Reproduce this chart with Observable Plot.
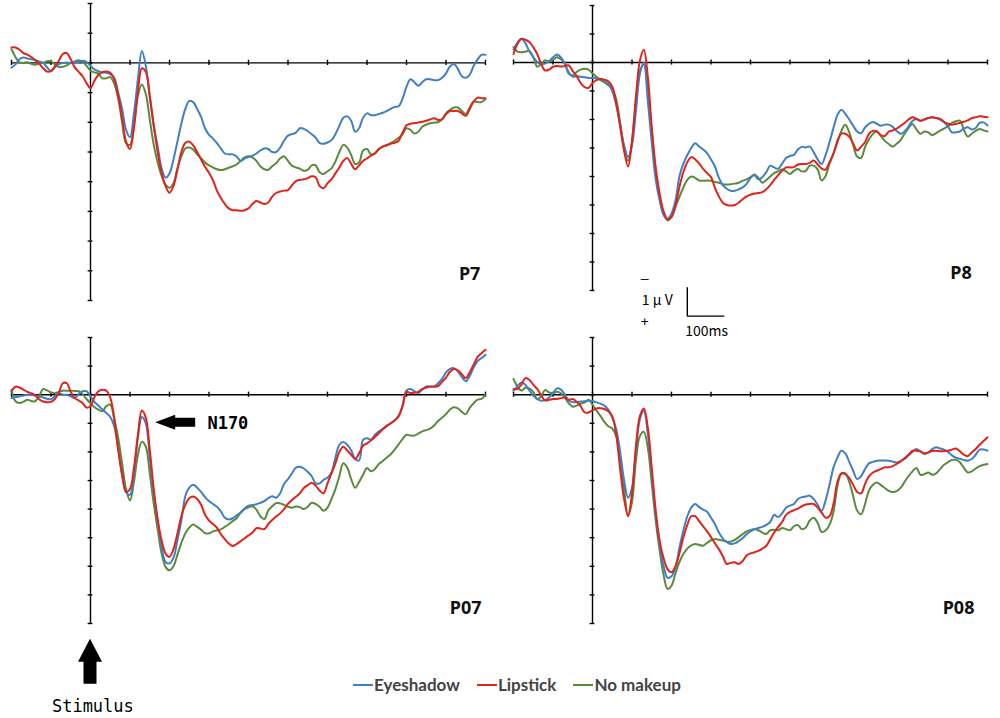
<!DOCTYPE html>
<html>
<head>
<meta charset="utf-8">
<script src="https://cdn.jsdelivr.net/npm/d3@7"></script>
<script src="https://cdn.jsdelivr.net/npm/@observablehq/plot@0.6"></script>
<style>
  html, body { margin: 0; padding: 0; background: #fff; }
  #wrap { position: relative; width: 1000px; height: 718px; overflow: hidden; background: #fff; }
  #wrap svg { position: absolute; overflow: visible !important; background: transparent !important; }
  #legend { position: absolute; left: 353px; top: 674px; display: flex; gap: 17px; font-family: Lato, "Open Sans", sans-serif; font-weight: 700; font-size: 17px; color: #444; }
  #legend span.item { display: flex; align-items: center; }
  #legend span.sw { display: inline-block; width: 20px; height: 2px; margin-right: 1px; }
</style>
</head>
<body>
<div id="wrap"><div id="legend"></div></div>
<script>
// ---- data (µV, positive plotted downward; time in ms) ----
const times = d3.range(-200, 1001, 10);
const conditions = ["Eyeshadow", "Lipstick", "No makeup"];
const colors = ["#3f7fc3", "#e2231a", "#5a8b3c"];
const xTicks = [-200, -100, 0, 100, 200, 300, 400, 500, 600, 700, 800, 900, 1000];
const yTicks = [-2, -1, 0, 1, 2, 3, 4, 5, 6, 7, 8];

const p7Eyeshadow = [
  0.16,0.05,-0.12,-0.18,-0.15,-0.12,-0.09,-0.05,0.00,0.15,
  0.27,0.15,0.04,0.00,-0.01,0.00,-0.01,-0.04,-0.07,-0.03,
  0.10,0.22,0.28,0.32,0.33,0.38,0.50,1.00,1.55,2.25,
  2.50,1.70,0.55,-0.40,0.10,1.15,2.10,2.80,3.55,3.86,
  3.72,3.25,2.65,2.05,1.55,1.28,1.32,1.55,1.82,2.20,
  2.42,2.55,2.70,2.88,3.05,3.08,3.08,3.15,3.30,3.22,
  3.17,3.12,3.05,2.95,2.88,2.90,3.00,3.00,2.85,2.62,
  2.45,2.40,2.35,2.20,2.22,2.30,2.40,2.52,2.70,2.72,
  2.68,2.60,2.40,2.12,1.85,1.80,1.95,2.32,2.20,1.85,
  1.70,1.76,1.76,1.72,1.68,1.62,1.55,1.48,1.46,1.20,
  0.80,0.55,0.65,0.77,0.65,0.55,0.55,0.58,0.58,0.50,
  0.35,0.12,0.04,0.20,0.45,0.50,0.40,0.10,-0.12,-0.27,
  -0.27];
const p7Lipstick = [
  -0.52,-0.52,-0.45,-0.33,-0.28,-0.20,-0.10,0.02,0.18,0.29,
  0.28,0.12,-0.08,-0.30,-0.33,-0.12,0.15,0.30,0.45,0.68,
  0.85,0.60,0.40,0.31,0.29,0.33,0.55,1.10,1.85,2.65,
  2.90,2.20,1.00,0.18,0.30,1.10,2.10,3.00,3.70,4.15,
  4.37,4.15,3.60,3.00,2.70,2.65,2.78,3.00,3.25,3.50,
  3.70,3.95,4.30,4.55,4.75,4.90,4.96,4.96,4.98,4.96,
  4.90,4.75,4.65,4.70,4.75,4.70,4.50,4.38,4.33,4.30,
  4.28,4.12,3.98,3.94,3.92,3.88,3.82,3.85,4.15,4.22,
  4.05,3.92,3.72,3.52,3.30,3.20,3.40,3.58,3.45,3.30,
  3.22,3.12,3.05,2.90,2.82,2.76,2.72,2.69,2.62,2.35,
  2.10,2.05,2.03,2.01,1.98,1.95,1.90,1.86,1.92,1.90,
  1.72,1.62,1.62,1.62,1.70,1.78,1.55,1.30,1.17,1.19,
  1.19];
const p7NoMakeup = [
  -0.46,-0.20,-0.02,0.00,-0.02,0.03,0.06,0.02,0.00,-0.06,
  -0.05,0.05,0.14,0.13,0.08,0.00,-0.05,-0.09,-0.04,0.10,
  0.26,0.32,0.36,0.52,0.52,0.48,0.70,1.20,2.00,2.70,
  2.76,2.00,1.10,0.73,1.05,1.90,2.75,3.35,3.80,4.10,
  4.20,4.05,3.55,3.15,2.88,2.85,2.92,3.08,3.22,3.35,
  3.45,3.52,3.58,3.61,3.58,3.53,3.48,3.42,3.30,3.18,
  3.14,3.18,3.30,3.48,3.58,3.60,3.48,3.38,3.22,3.14,
  3.30,3.46,3.52,3.56,3.63,3.60,3.45,3.45,3.68,3.74,
  3.65,3.55,3.32,3.00,2.76,2.85,3.10,3.40,3.35,2.95,
  2.90,3.08,3.05,2.90,2.82,2.78,2.70,2.62,2.52,2.40,
  2.20,2.25,2.38,2.32,2.15,2.08,2.03,2.01,2.00,1.90,
  1.70,1.58,1.50,1.50,1.62,1.72,1.50,1.30,1.32,1.32,
  1.22];

const p8Eyeshadow = [
  -0.45,-0.70,-0.83,-0.68,-0.40,-0.19,-0.02,0.05,0.04,-0.05,
  -0.18,-0.28,-0.18,0.05,0.35,0.50,0.48,0.50,0.52,0.54,
  0.54,0.55,0.58,0.64,0.75,1.00,1.50,2.20,2.90,3.32,
  2.90,1.70,0.40,0.00,1.33,2.80,4.10,4.84,5.35,5.49,
  5.30,4.85,4.00,3.55,3.25,3.00,2.83,2.95,3.05,3.18,
  3.40,3.65,4.05,4.30,4.43,4.50,4.50,4.45,4.38,4.26,
  4.05,3.96,4.10,4.02,3.85,3.62,3.68,3.73,3.55,3.35,
  3.28,3.24,3.05,2.96,2.98,2.95,3.15,3.40,3.56,3.25,
  2.80,2.30,1.85,1.66,1.80,2.00,2.22,2.42,2.48,2.28,
  2.15,2.09,2.15,2.22,2.18,2.18,2.26,2.40,2.50,2.42,
  2.25,2.05,1.98,2.05,2.00,1.95,1.92,1.95,2.00,2.10,
  2.25,2.45,2.45,2.42,2.32,2.27,2.35,2.30,2.12,2.10,
  2.21];
const p8Lipstick = [
  -0.30,-0.65,-0.83,-0.80,-0.72,-0.54,-0.30,0.05,0.28,0.25,
  0.15,0.12,0.14,0.12,0.10,0.30,0.48,0.72,0.86,0.89,
  0.72,0.62,0.58,0.60,0.66,0.85,1.40,2.25,3.10,3.65,
  2.75,1.20,-0.07,-0.45,0.50,2.27,3.70,4.60,5.22,5.50,
  5.42,5.05,4.37,3.85,3.50,3.32,3.40,3.55,3.73,3.88,
  4.02,4.40,4.70,4.92,5.00,5.02,5.00,4.92,4.80,4.70,
  4.64,4.60,4.58,4.55,4.45,4.30,4.12,3.95,3.80,3.68,
  3.68,3.67,3.58,3.56,3.56,3.52,3.44,3.58,3.72,3.76,
  3.50,3.20,2.75,2.50,2.50,2.60,2.85,3.09,2.95,2.80,
  2.50,2.40,2.42,2.55,2.58,2.42,2.38,2.32,2.22,2.12,
  2.00,1.92,1.98,2.04,2.00,1.95,1.92,1.95,1.98,2.08,
  2.15,2.18,2.15,2.12,2.08,2.03,1.95,1.92,1.89,1.90,
  1.92];
const p8NoMakeup = [
  -0.54,-0.38,-0.36,-0.38,-0.40,-0.19,0.15,0.05,-0.08,-0.03,
  -0.10,-0.18,-0.12,0.02,0.40,0.45,0.33,0.25,0.22,0.25,
  0.38,0.50,0.62,0.70,0.80,0.92,1.30,2.10,3.00,3.45,
  2.80,1.30,0.30,0.08,1.00,2.40,3.80,4.73,5.30,5.54,
  5.42,5.05,4.72,4.38,4.12,4.00,4.05,4.14,4.15,4.14,
  4.15,4.19,4.22,4.27,4.28,4.27,4.25,4.22,4.15,4.10,
  4.02,3.93,4.05,4.22,4.12,4.00,3.88,3.82,3.75,3.82,
  3.91,3.80,3.74,3.82,3.80,3.62,3.62,3.75,4.14,3.98,
  3.55,3.20,2.80,2.40,2.18,2.45,2.90,3.30,3.35,2.97,
  2.70,2.50,2.42,2.58,2.75,2.86,2.95,2.85,2.72,2.50,
  2.30,2.16,2.35,2.50,2.42,2.45,2.55,2.48,2.39,2.32,
  2.24,2.12,2.06,2.04,2.35,2.60,2.50,2.40,2.33,2.38,
  2.42];

const po7Eyeshadow = [
  0.12,0.08,0.06,0.03,0.00,0.00,0.03,0.06,0.10,0.14,
  0.16,0.05,-0.05,0.00,0.00,0.06,0.12,-0.02,-0.12,-0.12,
  0.06,0.25,0.38,0.52,0.64,0.78,1.10,1.90,2.80,3.40,
  3.50,2.80,1.50,0.78,1.00,2.20,3.40,4.40,5.30,5.85,
  5.90,5.70,5.10,4.40,3.55,3.25,3.15,3.25,3.40,3.58,
  3.72,3.82,3.92,4.08,4.30,4.36,4.32,4.22,4.13,3.98,
  3.88,3.86,3.83,3.78,3.72,3.62,3.55,3.60,3.45,3.12,
  2.95,2.75,2.55,2.52,2.58,2.70,2.85,3.10,3.10,2.98,
  2.90,2.72,2.20,1.75,1.65,1.75,1.95,2.25,2.30,1.58,
  1.52,1.57,1.40,1.28,1.20,1.10,1.00,0.90,0.75,0.40,
  -0.15,-0.20,-0.12,-0.06,-0.18,-0.29,-0.28,-0.29,-0.40,-0.55,
  -0.78,-0.90,-0.93,-0.82,-0.62,-0.47,-0.65,-0.95,-1.18,-1.28,
  -1.40];
const po7Lipstick = [
  -0.12,-0.28,-0.25,-0.18,-0.10,-0.05,0.02,0.16,0.24,0.26,
  0.25,0.15,-0.08,-0.40,-0.40,-0.10,0.12,0.20,0.29,0.45,
  0.40,0.08,-0.12,-0.17,-0.14,0.10,0.80,1.90,2.79,3.40,
  3.30,2.55,1.40,0.55,0.80,1.90,3.30,4.35,5.10,5.55,
  5.67,5.40,4.85,4.25,3.85,3.62,3.56,3.65,3.85,4.20,
  4.40,4.52,4.65,4.88,5.05,5.20,5.29,5.22,5.12,5.02,
  4.92,4.82,4.67,4.68,4.70,4.52,4.38,4.26,4.15,4.00,
  3.82,3.68,3.57,3.45,3.26,3.16,3.08,3.18,3.35,3.45,
  3.10,2.75,2.40,2.00,1.82,1.95,2.10,2.25,2.05,1.78,
  1.70,1.60,1.48,1.35,1.20,1.08,1.00,0.90,0.75,0.40,
  -0.10,-0.06,-0.07,-0.10,-0.20,-0.25,-0.29,-0.28,-0.30,-0.45,
  -0.60,-0.80,-0.90,-0.85,-0.72,-0.58,-0.78,-1.05,-1.32,-1.45,
  -1.57];
const po7NoMakeup = [
  -0.17,0.23,0.29,0.25,0.18,0.22,0.23,0.05,-0.20,-0.15,
  -0.08,-0.05,-0.10,-0.14,-0.14,-0.14,-0.13,-0.12,-0.02,0.15,
  0.30,0.44,0.52,0.58,0.40,0.35,0.85,1.50,2.40,3.30,
  3.70,3.05,2.10,1.65,1.82,2.75,3.80,4.70,5.55,6.02,
  6.14,6.00,5.60,5.18,4.85,4.65,4.54,4.62,4.72,4.84,
  4.85,4.78,4.74,4.71,4.62,4.53,4.42,4.32,4.12,4.00,
  3.94,3.90,4.02,4.25,4.35,4.05,3.90,3.79,3.80,3.85,
  3.92,3.95,3.91,3.93,4.00,3.92,3.78,3.82,3.92,4.06,
  3.95,3.65,3.30,2.85,2.40,2.55,2.95,3.25,3.05,2.80,
  2.56,2.68,2.60,2.42,2.32,2.20,2.08,1.92,1.74,1.55,
  1.40,1.43,1.43,1.36,1.28,1.24,1.19,1.08,0.92,0.80,
  0.68,0.52,0.44,0.48,0.60,0.68,0.46,0.30,0.17,0.15,
  0.00];

const po8Eyeshadow = [
  -0.14,-0.30,-0.43,-0.35,-0.15,0.03,0.15,0.21,0.19,0.10,
  -0.05,-0.22,-0.18,0.00,0.20,0.26,0.26,0.24,0.23,0.21,
  0.22,0.27,0.31,0.38,0.52,0.80,1.20,2.00,3.00,3.60,
  3.25,1.95,0.85,0.56,1.35,2.80,4.20,5.25,6.00,6.40,
  6.35,6.05,5.35,4.75,4.25,3.95,3.82,3.93,4.02,4.09,
  4.30,4.52,4.82,5.03,5.15,5.22,5.20,5.12,5.02,4.88,
  4.78,4.71,4.66,4.62,4.55,4.45,4.20,4.28,4.15,3.95,
  3.88,3.82,3.65,3.58,3.56,3.53,3.65,3.85,4.06,3.70,
  3.15,2.55,2.20,1.96,2.05,2.35,2.66,2.95,2.85,2.60,
  2.40,2.35,2.31,2.30,2.30,2.31,2.34,2.37,2.32,2.25,
  2.12,2.00,1.90,1.98,2.07,2.02,1.90,1.84,1.88,1.92,
  2.00,2.12,2.20,2.24,2.28,2.31,2.25,2.10,1.92,1.92,
  1.96];
const po8Lipstick = [
  -0.20,-0.20,-0.35,-0.58,-0.52,-0.35,-0.20,0.02,0.20,0.18,
  0.15,0.15,0.12,0.10,0.18,0.15,0.25,0.40,0.62,0.62,
  0.55,0.48,0.47,0.50,0.58,0.75,1.40,2.60,3.65,4.23,
  3.45,1.80,0.75,0.48,1.15,2.55,4.05,5.10,5.72,6.10,
  6.21,6.00,5.55,4.99,4.55,4.25,4.25,4.42,4.60,4.78,
  4.98,5.20,5.40,5.65,5.92,5.88,5.86,5.92,5.82,5.62,
  5.55,5.51,5.46,5.38,5.28,5.05,4.82,4.62,4.45,4.20,
  4.10,4.04,3.98,3.90,3.84,3.82,3.82,3.95,4.12,4.30,
  4.25,3.82,3.05,2.75,2.78,2.92,3.15,3.40,3.45,3.12,
  2.85,2.72,2.66,2.60,2.54,2.54,2.50,2.42,2.33,2.22,
  2.10,1.96,1.96,1.98,2.05,2.02,1.97,1.96,1.98,1.97,
  1.96,1.92,1.88,1.98,2.10,2.15,2.02,1.90,1.75,1.62,
  1.49];
const po8NoMakeup = [
  -0.55,-0.28,-0.15,-0.24,-0.22,-0.10,0.16,0.05,-0.16,-0.08,
  -0.05,-0.10,-0.05,0.10,0.30,0.42,0.38,0.32,0.27,0.18,
  0.35,0.55,0.74,0.95,1.10,1.18,1.45,2.20,3.30,4.25,
  3.75,2.30,1.45,1.30,1.85,3.10,4.40,5.45,6.30,6.79,
  6.68,6.25,5.85,5.57,5.38,5.27,5.22,5.25,5.28,5.18,
  5.09,5.05,5.07,5.10,5.14,5.14,5.08,4.98,4.88,4.78,
  4.74,4.70,4.74,4.82,4.87,4.74,4.72,4.74,4.66,4.70,
  4.74,4.60,4.56,4.70,4.64,4.40,4.30,4.48,4.80,4.75,
  4.55,4.10,3.20,2.76,2.75,3.05,3.55,4.05,4.18,3.82,
  3.35,3.15,3.07,3.16,3.26,3.36,3.40,3.37,3.26,3.05,
  2.85,2.68,2.56,2.80,2.78,2.72,2.80,2.75,2.60,2.45,
  2.36,2.28,2.28,2.36,2.55,2.72,2.68,2.58,2.50,2.45,
  2.42];

// ---- panels ----
const panels = [
  {name: "P7",  left: 0,   top: 0,   h: 330, ml: 11, mr: 15, mt: 3, bottom: 300, series: [p7Eyeshadow, p7Lipstick, p7NoMakeup], lx: 987, ly: 7.1},
  {name: "P8",  left: 500, top: 0,   h: 345, ml: 13, mr: 13, mt: 5, bottom: 290, series: [p8Eyeshadow, p8Lipstick, p8NoMakeup], lx: 960, ly: 7.4},
  {name: "PO7", left: 0,   top: 330, h: 388, ml: 11, mr: 15, mt: 7, bottom: 293, series: [po7Eyeshadow, po7Lipstick, po7NoMakeup], lx: 990, ly: 7.45},
  {name: "PO8", left: 500, top: 330, h: 330, ml: 13, mr: 13, mt: 7, bottom: 293, series: [po8Eyeshadow, po8Lipstick, po8NoMakeup], lx: 967, ly: 7.45}
];
const labels = {"P7": "P7", "P8": "P8", "PO7": "P07", "PO8": "P08"};
const drawOrder = [2, 0, 1]; // No makeup, Eyeshadow, Lipstick (on top)
const monoFont = "'DejaVu Sans Mono', monospace";

const wrap = document.getElementById("wrap");

for (const p of panels) {
  const rows = [];
  for (const k of drawOrder) {
    p.series[k].forEach((v, i) => rows.push({t: times[i], v, cond: conditions[k]}));
  }
  const extra = [];
  if (p.name === "P8") {
    // scale bar: 1 µV and 100 ms
    extra.push(
      Plot.ruleX([240], {y1: 7.9, y2: 8.9, stroke: "#000", strokeWidth: 1.4}),
      Plot.ruleY([8.9], {x1: 240, x2: 335, stroke: "#000", strokeWidth: 1.4}),
      Plot.text(["–"], {x: 132, y: 7.6, fontFamily: monoFont, fontSize: 13, fill: "#000"}),
      Plot.text(["1 \u03bc V"], {x: 164, y: 8.35, fontFamily: "'Noto Sans CJK JP', sans-serif", fontSize: 14, fill: "#000"}),
      Plot.text(["+"], {x: 132, y: 9.1, fontFamily: monoFont, fontSize: 13, fill: "#000"}),
      Plot.text(["100ms"], {x: 289, y: 9.45, fontFamily: "'Noto Sans CJK JP', sans-serif", fontSize: 14, fill: "#000"})
    );
  }
  if (p.name === "PO7") {
    extra.push(
      Plot.text(["N170"], {x: 296, y: 1.0, textAnchor: "start", fontFamily: monoFont, fontWeight: "bold", fontSize: 17, fill: "#000"}),
      Plot.text(["Stimulus"], {x: 6, y: 10.9, fontFamily: monoFont, fontSize: 17, fill: "#000"})
    );
  }
  const chart = Plot.plot({
    width: 500,
    height: p.h,
    marginLeft: p.ml,
    marginRight: p.mr,
    marginTop: p.mt,
    marginBottom: p.h - p.bottom,
    x: {domain: [-200, 1000], axis: null},
    y: {domain: [-2, 8], reverse: true, axis: null},
    color: {domain: conditions, range: colors},
    style: {background: "transparent", overflow: "visible"},
    marks: [
      Plot.ruleY([0], {stroke: "#000", strokeWidth: 1.4}),
      Plot.ruleX([0], {stroke: "#000", strokeWidth: 1.4}),
      Plot.ruleX(xTicks, {x: d => d, y1: -0.09, y2: 0.09, stroke: "#000", strokeWidth: 1.4}),
      Plot.ruleY(yTicks, {y: d => d, x1: -6, x2: 6, stroke: "#000", strokeWidth: 1.4}),
      Plot.line(rows, {x: "t", y: "v", z: "cond", stroke: "cond", strokeWidth: 2, curve: "catmull-rom"}),
      Plot.text([labels[p.name]], {x: p.lx, y: p.ly, textAnchor: "end", fontFamily: "'Noto Sans', sans-serif", fontWeight: "bold", fontSize: 18, fill: "#111"}),
      ...extra
    ]
  });
  chart.style.left = p.left + "px";
  chart.style.top = p.top + "px";
  wrap.appendChild(chart);

  if (p.name === "PO7") {
    const sx = chart.scale("x"), sy = chart.scale("y");
    const svg = d3.select(chart);
    // N170 arrow pointing left
    const tipX = sx.apply(165), tipY = sy.apply(0.98);
    svg.append("path")
      .attr("d", `M${tipX},${tipY} L${tipX + 20},${tipY - 7.5} L${tipX + 20},${tipY - 4.5} L${tipX + 40},${tipY - 4.5} L${tipX + 40},${tipY + 4.5} L${tipX + 20},${tipY + 4.5} L${tipX + 20},${tipY + 7.5} Z`)
      .attr("fill", "#000");
    // Stimulus arrow pointing up at time 0
    const ax = sx.apply(0), top = sy.apply(8.55);
    svg.append("path")
      .attr("d", `M${ax},${top} L${ax + 12},${top + 23} L${ax + 6.5},${top + 23} L${ax + 6.5},${top + 45} L${ax - 6.5},${top + 45} L${ax - 6.5},${top + 23} L${ax - 12},${top + 23} Z`)
      .attr("fill", "#000");
  }
}

// legend
const legend = document.getElementById("legend");
conditions.forEach((c, i) => {
  const item = document.createElement("span");
  item.className = "item";
  const sw = document.createElement("span");
  sw.className = "sw";
  sw.style.background = colors[i];
  item.appendChild(sw);
  item.appendChild(document.createTextNode(c));
  legend.appendChild(item);
});
</script>
</body>
</html>
